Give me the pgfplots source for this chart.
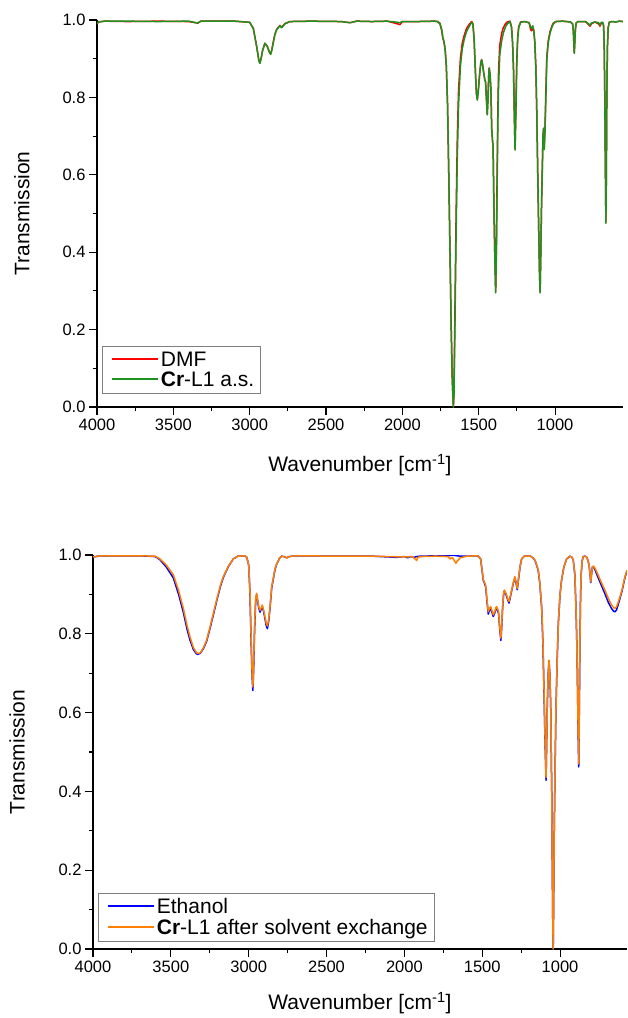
\documentclass[border=0pt]{standalone}
\usepackage{pgfplots}
\pgfplotsset{compat=1.18}
\usepackage{fontspec}
\setmainfont{Liberation Sans}
\definecolor{cred}{RGB}{255,0,0}
\definecolor{cgreen}{RGB}{30,145,30}
\definecolor{cblue}{RGB}{0,0,255}
\definecolor{corange}{RGB}{255,128,0}
\definecolor{lgray}{RGB}{128,128,128}
\pgfplotsset{
  irstyle/.style={
    scale only axis,
    x dir=reverse,
    ymin=0, ymax=1,
    enlargelimits=false,
    axis lines=left,
    axis line style={-, line width=1.2pt, black},
    tick align=outside,
    major tick length=8pt,
    minor tick length=4pt,
    every tick/.style={black, line width=1.1pt},
    xtick={1000,1500,2000,2500,3000,3500,4000},
    minor x tick num=1,
    ytick={0,0.2,0.4,0.6,0.8,1.0},
    minor y tick num=1,
    /pgf/number format/assume math mode=true,
    tick label style={font=\fontsize{16.5}{18}\selectfont},
    xticklabel style={/pgf/number format/1000 sep={}},
    yticklabel style={/pgf/number format/.cd, fixed, fixed zerofill, precision=1},
    label style={font=\fontsize{21}{24}\selectfont},
    ylabel={Transmission},
    xlabel={Wavenumber [cm\textsuperscript{-1}]},
    legend cell align=left,
    legend image code/.code={\path[draw=none, fill=none] (0pt,0.6pt) rectangle (5pt,0.6pt); \draw[#1, line width=2pt] (5pt,0.6pt) -- (51pt,0.6pt);},
    legend style={at={(axis description cs:0,0)}, anchor=south west,
      draw=lgray, line width=0.8pt, font=\fontsize{21}{23}\selectfont,
      inner xsep=5pt, inner ysep=4.5pt, row sep=2pt,
      nodes={inner xsep=1.5pt, inner ysep=1pt}},
    every axis plot/.append style={line width=1.5pt, line join=round},
  }
}
\begin{document}
\begin{tikzpicture}
\useasboundingbox (0,0) rectangle (627pt,-1018pt);
% ---------------- top panel ----------------
\begin{axis}[irstyle,
  at={(97pt,-407pt)}, anchor=south west,
  width=526pt, height=387pt,
  xmin=555, xmax=4000,
  ylabel style={at={(axis description cs:-0.143,0.5)}, anchor=center},
  xlabel style={at={(axis description cs:0.5,-0.150)}, anchor=center},
  legend style={xshift=5pt, yshift=13pt},
]
\addplot[color=cred] coordinates {
(4000,0.990)(3990,0.995)(3950,0.997)(3800,0.996)(3600,0.997)(3400,0.996)(3340,0.992)(3320,0.997)
(3100,0.997)(3000,0.994)(2976,0.978)(2954,0.931)(2940,0.896)(2933,0.889)(2925,0.901)(2915,0.922)
(2900,0.940)(2885,0.932)(2872,0.918)(2863,0.912)(2855,0.923)(2845,0.944)(2835,0.963)(2823,0.976)
(2802,0.986)(2791,0.981)(2780,0.986)(2769,0.991)(2736,0.996)(2600,0.997)(2400,0.996)(2343,0.993)
(2300,0.997)(2200,0.996)(2100,0.997)(2030,0.990)(2016,0.988)(2000,0.996)(1900,0.996)(1790,0.997)
(1770,0.996)(1754,0.992)(1742,0.972)(1735,0.953)(1728,0.944)(1720,0.925)(1712,0.88)(1704,0.78)
(1696,0.60)(1688,0.40)(1680,0.20)(1673,0.07)(1666,0.00)(1662,0.04)(1656,0.24)(1648,0.50)
(1640,0.70)(1632,0.82)(1620,0.90)(1608,0.94)(1595,0.96)(1580,0.978)(1560,0.99)(1546,0.996)
(1538,0.99)(1530,0.95)(1522,0.87)(1515,0.81)(1509,0.795)(1502,0.82)(1494,0.86)(1486,0.89)
(1481,0.898)(1475,0.886)(1468,0.866)(1460,0.846)(1455,0.84)(1450,0.80)(1444,0.757)(1439,0.80)
(1434,0.86)(1431,0.876)(1426,0.86)(1420,0.82)(1415,0.72)(1410,0.690)(1406,0.675)(1400,0.51)
(1394,0.38)(1389,0.297)(1384,0.42)(1380,0.58)(1375,0.76)(1370,0.87)(1362,0.935)(1350,0.965)
(1339,0.980)(1325,0.990)(1313,0.995)(1295,0.997)(1285,0.982)(1278,0.94)(1272,0.87)(1266,0.74)
(1262,0.666)(1257,0.76)(1251,0.89)(1245,0.955)(1238,0.983)(1225,0.995)(1200,0.996)(1170,0.993)
(1160,0.975)(1153,0.972)(1146,0.980)(1140,0.975)(1133,0.945)(1126,0.88)(1120,0.77)(1114,0.62)
(1108,0.48)(1102,0.35)(1098,0.297)(1094,0.38)(1089,0.51)(1084,0.61)(1079,0.70)(1075,0.72)
(1071,0.668)(1066,0.72)(1060,0.82)(1054,0.905)(1045,0.945)(1033,0.97)(1020,0.985)(1011,0.992)
(995,0.996)(950,0.997)(900,0.995)(885,0.990)(880,0.970)(876,0.93)(874,0.915)(871,0.94)
(867,0.975)(862,0.992)(850,0.996)(800,0.996)(780,0.988)(771,0.984)(762,0.990)(740,0.995)
(715,0.990)(706,0.984)(697,0.992)(688,0.993)(682,0.985)(678,0.93)(674,0.80)(671,0.65)
(667,0.478)(664,0.60)(661,0.80)(657,0.93)(652,0.98)(645,0.994)(630,0.996)(600,0.995)
(580,0.997)(555,0.996)
};
\addlegendentry{DMF}
\addplot[color=cgreen] coordinates {
(4000,0.990)(3990,0.995)(3950,0.997)(3800,0.997)(3600,0.996)(3400,0.997)(3340,0.992)(3320,0.997)
(3100,0.997)(3000,0.994)(2976,0.978)(2954,0.931)(2940,0.895)(2933,0.888)(2925,0.900)(2915,0.922)
(2900,0.940)(2885,0.932)(2872,0.918)(2863,0.911)(2855,0.922)(2845,0.942)(2835,0.962)(2823,0.975)
(2802,0.985)(2791,0.980)(2780,0.985)(2769,0.990)(2736,0.996)(2600,0.997)(2400,0.996)(2343,0.993)
(2300,0.997)(2200,0.996)(2100,0.997)(2030,0.994)(2016,0.993)(2000,0.996)(1900,0.996)(1790,0.997)
(1770,0.996)(1754,0.990)(1742,0.975)(1735,0.955)(1728,0.945)(1720,0.925)(1712,0.88)(1704,0.78)
(1696,0.60)(1688,0.40)(1680,0.20)(1673,0.07)(1666,0.00)(1662,0.03)(1656,0.20)(1648,0.45)
(1640,0.65)(1632,0.78)(1620,0.88)(1608,0.925)(1595,0.95)(1580,0.97)(1560,0.985)(1546,0.994)
(1538,0.99)(1530,0.95)(1522,0.87)(1515,0.81)(1509,0.793)(1502,0.82)(1494,0.86)(1486,0.89)
(1481,0.897)(1475,0.885)(1468,0.865)(1460,0.845)(1455,0.84)(1450,0.80)(1444,0.755)(1439,0.80)
(1434,0.86)(1431,0.875)(1426,0.86)(1420,0.82)(1415,0.72)(1410,0.690)(1406,0.675)(1400,0.51)
(1394,0.38)(1389,0.295)(1384,0.40)(1380,0.55)(1375,0.72)(1370,0.83)(1362,0.91)(1350,0.945)
(1339,0.966)(1325,0.982)(1313,0.990)(1295,0.996)(1285,0.98)(1278,0.94)(1272,0.87)(1266,0.74)
(1262,0.664)(1257,0.75)(1251,0.88)(1245,0.95)(1238,0.98)(1225,0.994)(1200,0.996)(1170,0.993)
(1160,0.982)(1153,0.978)(1146,0.985)(1140,0.975)(1133,0.945)(1126,0.88)(1120,0.77)(1114,0.62)
(1108,0.48)(1102,0.35)(1098,0.295)(1094,0.38)(1089,0.51)(1084,0.60)(1079,0.70)(1075,0.72)
(1071,0.665)(1066,0.71)(1060,0.80)(1054,0.897)(1045,0.94)(1033,0.966)(1020,0.982)(1011,0.99)
(995,0.996)(950,0.997)(900,0.995)(885,0.990)(880,0.970)(876,0.93)(874,0.914)(871,0.94)
(867,0.975)(862,0.992)(850,0.996)(800,0.996)(780,0.990)(771,0.986)(762,0.992)(740,0.995)
(715,0.993)(706,0.987)(697,0.994)(688,0.994)(682,0.985)(678,0.93)(674,0.80)(671,0.65)
(667,0.475)(664,0.60)(661,0.80)(657,0.93)(652,0.98)(645,0.994)(630,0.996)(600,0.995)
(580,0.997)(555,0.996)
};
\addlegendentry{\textbf{Cr}-L1 a.s.}
\end{axis}
% ---------------- bottom panel ----------------
\begin{axis}[irstyle,
  at={(93pt,-949pt)}, anchor=south west,
  width=534pt, height=394pt,
  xmin=570, xmax=4000,
  ylabel style={at={(axis description cs:-0.142,0.5)}, anchor=center},
  xlabel style={at={(axis description cs:0.5,-0.137)}, anchor=center},
  legend style={xshift=5pt, yshift=7pt},
]
\addplot[color=cblue] coordinates {
(4000,0.995)(3950,0.998)(3700,0.998)(3600,0.996)(3570,0.988)(3530,0.970)(3484,0.942)(3450,0.900)
(3420,0.855)(3395,0.810)(3377,0.784)(3355,0.760)(3335,0.749)(3324,0.748)(3310,0.751)(3290,0.763)
(3270,0.781)(3250,0.811)(3227,0.848)(3200,0.892)(3180,0.922)(3163,0.943)(3130,0.971)(3099,0.99)
(3070,0.997)(3030,0.998)(3013,0.995)(3000,0.975)(2992,0.905)(2985,0.79)(2978,0.69)(2973,0.656)
(2968,0.71)(2962,0.81)(2955,0.885)(2949,0.900)(2942,0.882)(2935,0.865)(2927,0.855)(2920,0.862)
(2913,0.870)(2905,0.858)(2896,0.840)(2888,0.822)(2880,0.813)(2872,0.830)(2863,0.865)(2852,0.917)
(2840,0.943)(2831,0.963)(2820,0.977)(2800,0.993)(2788,0.997)(2765,0.995)(2756,0.993)(2740,0.996)
(2700,0.998)(2400,0.997)(2200,0.997)(2050,0.994)(2000,0.996)(1980,0.993)(1960,0.996)(1940,0.994)
(1921,0.996)(1900,0.997)(1800,0.998)(1720,0.998)(1700,0.999)(1675,0.999)(1660,0.998)(1640,0.997)
(1600,0.997)(1530,0.998)(1510,0.99)(1500,0.958)(1493,0.935)(1485,0.928)(1478,0.920)(1470,0.885)
(1461,0.850)(1453,0.860)(1446,0.865)(1438,0.855)(1429,0.844)(1420,0.852)(1412,0.864)(1407,0.866)
(1400,0.858)(1395,0.852)(1388,0.815)(1380,0.783)(1375,0.815)(1369,0.865)(1363,0.898)(1358,0.909)
(1350,0.903)(1343,0.895)(1335,0.885)(1328,0.878)(1320,0.892)(1311,0.909)(1300,0.928)(1290,0.943)
(1282,0.928)(1275,0.912)(1270,0.928)(1264,0.948)(1255,0.974)(1247,0.990)(1230,0.997)(1190,0.997)
(1175,0.993)(1161,0.986)(1150,0.974)(1140,0.960)(1130,0.928)(1118,0.865)(1110,0.775)(1103,0.650)
(1096,0.52)(1090,0.428)(1086,0.52)(1082,0.62)(1076,0.70)(1071,0.731)(1066,0.70)(1060,0.62)
(1056,0.48)(1053,0.39)(1050,0.22)(1047,0.08)(1044,0.00)(1041,0.12)(1038,0.277)(1032,0.46)
(1026,0.615)(1018,0.74)(1011,0.827)(1000,0.90)(990,0.937)(975,0.97)(958,0.99)(936,0.997)
(925,0.995)(915,0.987)(905,0.95)(898,0.869)(893,0.79)(889,0.70)(884,0.55)(880,0.462)
(876,0.62)(872,0.79)(868,0.90)(864,0.953)(858,0.985)(851,0.996)(840,0.997)(829,0.995)
(820,0.985)(814,0.975)(808,0.955)(803,0.930)(798,0.95)(792,0.97)(785,0.970)(775,0.962)
(765,0.952)(740,0.928)(712,0.902)(690,0.880)(669,0.864)(655,0.857)(647,0.856)(638,0.860)
(625,0.876)(615,0.890)(600,0.912)(583,0.943)(570,0.960)
};
\addlegendentry{Ethanol}
\addplot[color=corange] coordinates {
(4000,0.995)(3950,0.998)(3700,0.998)(3600,0.997)(3570,0.990)(3530,0.975)(3484,0.950)(3450,0.910)
(3420,0.865)(3395,0.820)(3377,0.792)(3355,0.765)(3335,0.752)(3324,0.750)(3310,0.752)(3290,0.765)
(3270,0.784)(3250,0.815)(3227,0.852)(3200,0.895)(3180,0.925)(3163,0.945)(3130,0.972)(3099,0.99)
(3070,0.997)(3030,0.998)(3013,0.995)(3000,0.975)(2992,0.911)(2985,0.80)(2978,0.70)(2973,0.665)
(2968,0.72)(2962,0.82)(2955,0.89)(2949,0.903)(2942,0.885)(2935,0.868)(2927,0.860)(2920,0.865)
(2913,0.873)(2905,0.862)(2896,0.845)(2888,0.828)(2880,0.820)(2872,0.835)(2863,0.869)(2852,0.920)
(2840,0.945)(2831,0.965)(2820,0.978)(2800,0.993)(2788,0.997)(2765,0.995)(2756,0.992)(2740,0.996)
(2700,0.998)(2400,0.997)(2200,0.997)(2000,0.995)(1950,0.996)(1925,0.988)(1921,0.986)(1915,0.993)
(1900,0.996)(1800,0.997)(1720,0.996)(1707,0.990)(1700,0.992)(1690,0.993)(1675,0.983)(1669,0.979)
(1660,0.985)(1640,0.993)(1600,0.997)(1530,0.998)(1510,0.99)(1500,0.96)(1493,0.937)(1485,0.93)
(1478,0.924)(1470,0.89)(1461,0.856)(1453,0.865)(1446,0.869)(1438,0.86)(1429,0.848)(1420,0.855)
(1412,0.867)(1407,0.869)(1400,0.862)(1395,0.856)(1388,0.82)(1380,0.789)(1375,0.82)(1369,0.869)
(1363,0.90)(1358,0.911)(1350,0.905)(1343,0.898)(1335,0.888)(1328,0.882)(1320,0.895)(1311,0.911)
(1300,0.93)(1290,0.945)(1282,0.93)(1275,0.915)(1270,0.93)(1264,0.950)(1255,0.975)(1247,0.990)
(1230,0.997)(1190,0.997)(1175,0.993)(1161,0.987)(1150,0.975)(1140,0.962)(1130,0.93)(1118,0.869)
(1110,0.78)(1103,0.657)(1096,0.53)(1090,0.435)(1086,0.52)(1082,0.62)(1076,0.70)(1071,0.733)
(1066,0.70)(1060,0.62)(1056,0.48)(1053,0.39)(1050,0.22)(1047,0.08)(1044,0.00)(1041,0.12)
(1038,0.277)(1032,0.46)(1026,0.615)(1018,0.74)(1011,0.827)(1000,0.90)(990,0.937)(975,0.97)
(958,0.99)(936,0.997)(925,0.995)(915,0.987)(905,0.95)(898,0.869)(893,0.79)(889,0.70)
(884,0.56)(880,0.47)(876,0.62)(872,0.79)(868,0.90)(864,0.953)(858,0.985)(851,0.996)
(840,0.997)(829,0.995)(820,0.985)(814,0.975)(808,0.955)(803,0.932)(798,0.95)(792,0.97)
(785,0.972)(775,0.966)(765,0.958)(740,0.935)(712,0.911)(690,0.89)(669,0.873)(655,0.866)
(647,0.865)(638,0.868)(625,0.882)(615,0.894)(600,0.915)(583,0.945)(570,0.962)
};
\addlegendentry{\textbf{Cr}-L1 after solvent exchange}
\end{axis}
\end{tikzpicture}
\end{document}
